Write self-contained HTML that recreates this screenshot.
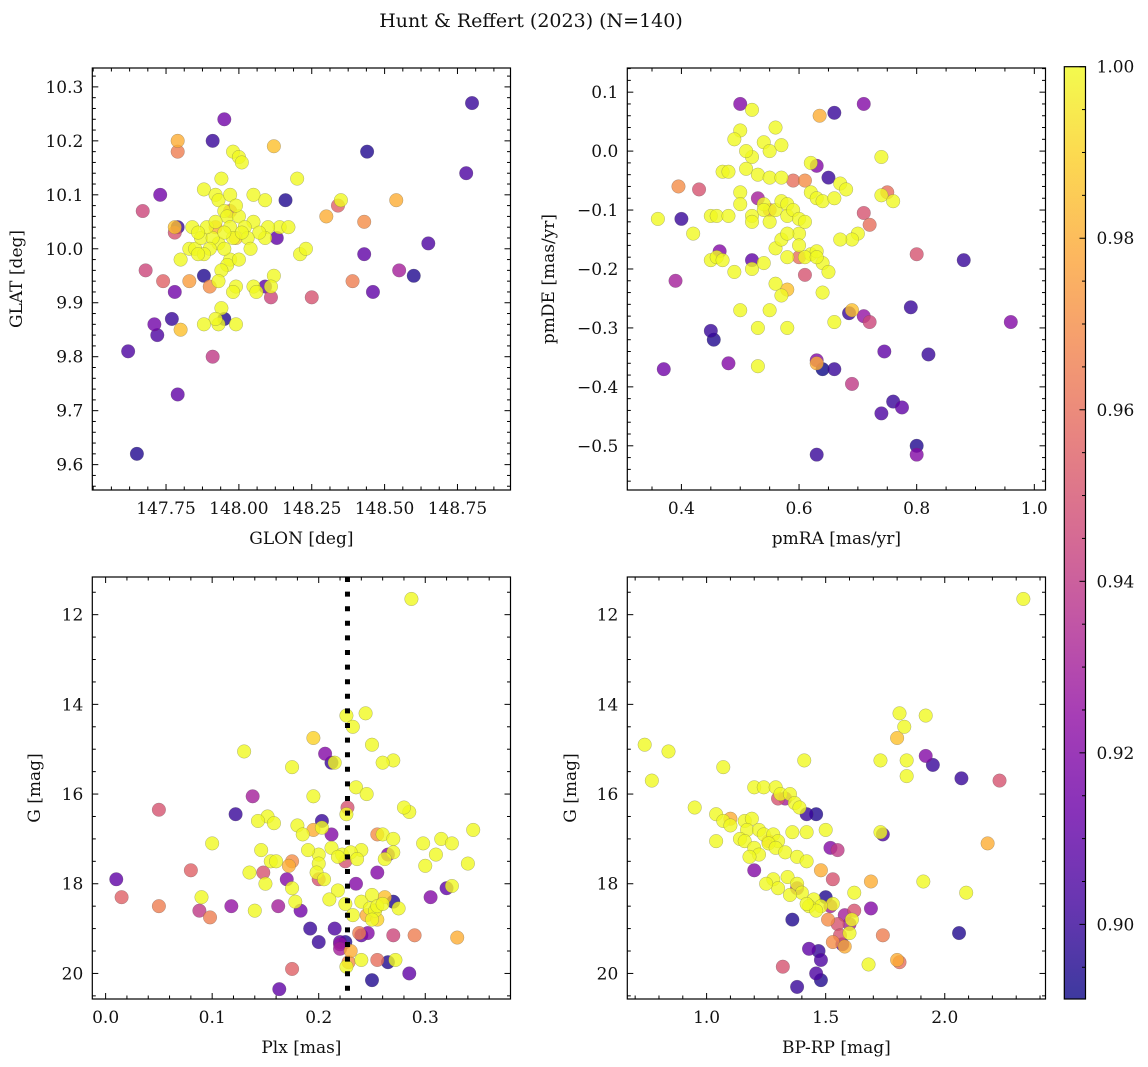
<!DOCTYPE html>
<html><head><meta charset="utf-8">
<style>
html,body{margin:0;padding:0;background:#fff;}
svg{display:block;font-family:"DejaVu Serif","Liberation Serif",serif;}
</style></head>
<body>
<svg id="fig" width="1148" height="1067" viewBox="0 0 1148 1067" xmlns="http://www.w3.org/2000/svg">
<rect width="1148" height="1067" fill="#fff"/>
<text x="531" y="27" font-size="19" text-anchor="middle" fill="#111">Hunt &amp; Reffert (2023) (N=140)</text>
</svg>
<script>
// ---- data: [x, y, membership probability] ----
const skyPoints = [
[148.80,10.27,.90],[147.95,10.24,.915],[147.91,10.20,.90],[147.79,10.20,.98],[147.79,10.18,.965],[148.44,10.18,.895],[148.12,10.19,.985],[148.78,10.14,.905],[147.73,10.10,.915],[147.67,10.07,.945],[148.16,10.09,.895],[148.34,10.08,.955],[148.54,10.09,.98],[148.43,10.05,.97],[148.30,10.06,.98],[148.65,10.01,.905],[148.43,9.99,.91],[147.68,9.96,.945],[147.74,9.94,.955],[148.60,9.95,.895],[148.55,9.96,.93],[148.46,9.92,.91],[148.39,9.94,.965],[148.25,9.91,.95],[148.11,9.91,.945],[147.78,9.92,.915],[147.71,9.86,.915],[147.72,9.84,.905],[147.77,9.87,.90],[147.62,9.81,.905],[147.91,9.80,.94],[147.79,9.73,.91],[147.65,9.62,.895],[147.80,9.85,.985],[147.95,9.87,.895],[148.09,9.93,.91],[148.13,10.02,.91],[147.79,10.04,.90],[147.78,10.04,.985],[147.78,10.03,.95],[147.88,9.95,.895],[147.90,9.93,.97],[147.83,9.94,.975],
[147.98,10.18,1],[148.00,10.17,1],[148.01,10.16,1],[147.94,10.13,1],[148.20,10.13,1],[147.88,10.11,1],[148.09,10.09,1],[148.05,10.10,1],[148.14,10.04,1],[148.05,10.05,1],[148.10,10.04,1],[148.17,10.04,1],[148.35,10.09,1],[148.21,9.99,1],[148.23,10.00,1],[148.09,10.02,1],[148.07,10.03,1],[148.12,9.95,1],[148.11,9.93,1],[148.05,9.93,1],[148.06,9.92,1],[147.99,9.93,1],[147.98,9.92,1],[147.94,9.89,1],[147.99,9.86,1],[147.93,9.86,1],[147.92,9.87,1],[147.88,9.86,1],[147.80,9.98,1],[147.83,10.00,1],[147.85,10.00,1],[147.87,10.02,1],[147.84,10.04,1],[147.92,10.10,1],[147.93,10.09,1],[147.95,10.07,1],[147.96,10.06,1],[148.00,10.06,1],[148.02,10.04,1],[148.03,10.02,1],[148.04,10.00,1],[147.97,10.04,1],[147.98,10.02,1],[147.93,10.01,1],[147.91,10.02,1],[147.90,10.00,1],[147.88,9.99,1],[147.89,10.04,1],[147.95,10.03,1],[147.97,9.98,1],[147.96,9.97,1],[147.94,9.96,1],[147.93,9.94,1],[147.97,10.10,1],[147.99,10.08,1],[148.01,10.03,1],[147.92,10.05,1],[147.86,9.99,1],[147.95,10.00,1],[147.86,10.03,1],[148.00,9.98,1],[147.97,10.07,.96],[147.92,10.04,.98],[147.99,10.02,.99]
];
const pmPoints = [
[0.50,0.08,.92],[0.71,0.08,.92],[0.66,0.065,.90],[0.635,0.06,.98],[0.395,-0.06,.97],[0.43,-0.065,.95],[0.63,-0.025,.92],[0.65,-0.045,.90],[0.40,-0.115,.90],[0.75,-0.07,.96],[0.71,-0.105,.95],[0.72,-0.125,.96],[0.59,-0.05,.96],[0.61,-0.05,.97],[0.55,-0.10,.97],[0.53,-0.08,.93],[0.465,-0.17,.92],[0.52,-0.185,.91],[0.60,-0.18,.96],[0.39,-0.22,.93],[0.61,-0.21,.95],[0.80,-0.175,.95],[0.88,-0.185,.90],[0.58,-0.235,.985],[0.45,-0.305,.90],[0.455,-0.32,.895],[0.69,-0.27,.985],[0.685,-0.275,.90],[0.71,-0.28,.925],[0.72,-0.29,.945],[0.79,-0.265,.90],[0.96,-0.29,.92],[0.37,-0.37,.915],[0.48,-0.36,.92],[0.63,-0.355,.92],[0.63,-0.36,.98],[0.64,-0.37,.89],[0.66,-0.37,.90],[0.745,-0.34,.91],[0.82,-0.345,.90],[0.69,-0.395,.94],[0.76,-0.425,.90],[0.775,-0.435,.91],[0.74,-0.445,.905],[0.80,-0.5,.895],[0.80,-0.515,.92],[0.63,-0.515,.90],
[0.52,0.07,1],[0.56,0.04,1],[0.50,0.035,1],[0.49,0.02,1],[0.54,0.015,1],[0.55,0.0,1],[0.57,0.01,1],[0.52,-0.01,1],[0.51,0.0,1],[0.47,-0.035,1],[0.48,-0.035,1],[0.51,-0.03,1],[0.53,-0.04,1],[0.55,-0.045,1],[0.57,-0.045,1],[0.50,-0.07,1],[0.45,-0.11,1],[0.46,-0.11,1],[0.42,-0.14,1],[0.36,-0.115,1],[0.48,-0.11,1],[0.50,-0.09,1],[0.52,-0.11,1],[0.52,-0.12,1],[0.54,-0.09,1],[0.54,-0.10,1],[0.55,-0.12,1],[0.56,-0.1,1],[0.57,-0.085,1],[0.58,-0.09,1],[0.58,-0.11,1],[0.59,-0.10,1],[0.60,-0.115,1],[0.60,-0.14,1],[0.61,-0.12,1],[0.62,-0.07,1],[0.62,-0.02,1],[0.63,-0.08,1],[0.64,-0.085,1],[0.66,-0.08,1],[0.67,-0.055,1],[0.68,-0.065,1],[0.70,-0.14,1],[0.69,-0.15,1],[0.74,-0.075,1],[0.76,-0.085,1],[0.74,-0.01,1],[0.45,-0.185,1],[0.46,-0.18,1],[0.47,-0.185,1],[0.49,-0.205,1],[0.52,-0.20,1],[0.54,-0.19,1],[0.56,-0.165,1],[0.57,-0.15,1],[0.58,-0.18,1],[0.58,-0.14,1],[0.60,-0.16,1],[0.62,-0.175,1],[0.63,-0.17,1],[0.64,-0.19,1],[0.65,-0.205,1],[0.56,-0.225,1],[0.57,-0.245,1],[0.55,-0.27,1],[0.61,-0.18,1],[0.66,-0.29,1],[0.50,-0.27,1],[0.53,-0.30,1],[0.58,-0.30,1],[0.53,-0.365,1],[0.64,-0.24,1],[0.63,-0.18,1],[0.67,-0.15,1]
];
const plxPoints = [
[0.287,11.65,1],[0.226,14.25,1],[0.244,14.2,1],[0.232,14.5,1],[0.250,14.9,1],[0.195,14.75,.99],[0.13,15.05,1],[0.175,15.4,1],[0.215,15.3,1],[0.27,15.25,1],[0.26,15.3,1],[0.206,15.1,.92],[0.212,15.3,.90],[0.235,15.85,1],[0.245,16.0,1],[0.195,16.05,1],[0.227,16.3,.95],[0.226,16.45,1],[0.152,16.5,1],[0.138,16.05,.93],[0.203,16.6,.90],[0.18,16.7,1],[0.185,16.9,1],[0.203,16.75,1],[0.195,16.8,.98],[0.212,16.9,.92],[0.122,16.45,.90],[0.158,16.65,1],[0.143,16.6,1],[0.26,16.9,1],[0.27,17.0,1],[0.285,16.4,1],[0.28,16.3,1],[0.255,16.9,.97],[0.298,17.1,1],[0.31,17.35,1],[0.315,17.0,1],[0.325,17.1,1],[0.345,16.8,1],[0.34,17.55,1],[0.30,17.6,1],[0.27,17.3,1],[0.262,17.45,1],[0.255,17.75,.92],[0.265,17.35,.92],[0.24,17.25,1],[0.212,17.2,1],[0.222,17.35,1],[0.225,17.5,.95],[0.218,17.4,1],[0.23,17.3,1],[0.236,17.45,1],[0.2,17.35,1],[0.19,17.25,1],[0.175,17.5,.97],[0.172,17.6,.98],[0.2,17.55,1],[0.198,17.75,1],[0.205,17.9,1],[0.1,17.1,1],[0.146,17.25,1],[0.148,17.75,.95],[0.135,17.75,1],[0.155,17.5,1],[0.16,17.5,1],[0.15,18.0,1],[0.17,17.9,.92],[0.175,18.1,1],[0.2,17.9,.95],[0.235,18.0,.92],[0.218,18.15,1],[0.21,18.35,1],[0.225,18.45,1],[0.24,18.4,1],[0.25,18.25,1],[0.248,18.55,1],[0.253,18.6,1],[0.255,18.5,1],[0.26,18.45,1],[0.245,18.7,.98],[0.25,18.8,1],[0.255,18.8,.99],[0.262,18.3,.985],[0.232,18.7,1],[0.275,18.55,1],[0.305,18.3,.92],[0.27,18.4,.895],[0.32,18.1,.91],[0.325,18.05,1],[0.01,17.9,.91],[0.015,18.3,.955],[0.05,18.5,.965],[0.08,17.7,.955],[0.088,18.6,.94],[0.098,18.75,.965],[0.09,18.3,1],[0.118,18.5,.925],[0.14,18.6,1],[0.162,18.5,.93],[0.183,18.6,.915],[0.178,18.4,1],[0.192,19.0,.90],[0.215,19.0,.905],[0.238,19.1,.965],[0.24,19.15,.91],[0.27,19.15,.945],[0.246,19.1,.92],[0.2,19.3,.90],[0.22,19.3,.91],[0.22,19.45,.93],[0.225,19.3,.895],[0.23,19.5,.98],[0.24,19.7,1],[0.228,19.75,.97],[0.226,19.85,1],[0.175,19.9,.955],[0.163,20.35,.91],[0.25,20.15,.895],[0.285,20.0,.91],[0.29,19.15,.965],[0.33,19.2,.98],[0.255,19.7,.96],[0.265,19.75,.895],[0.272,19.7,1],[0.22,19.35,.925],[0.05,16.35,.95]
];
const cmdPoints = [
[2.33,11.65,1],[1.81,14.2,1],[1.92,14.25,1],[1.83,14.5,1],[1.8,14.75,.985],[0.74,14.9,1],[0.84,15.05,1],[1.73,15.25,1],[1.84,15.25,1],[1.41,15.25,1],[1.92,15.15,.92],[1.95,15.35,.90],[1.07,15.4,1],[0.77,15.7,1],[2.07,15.65,.90],[2.23,15.7,.95],[1.84,15.6,1],[1.2,15.85,1],[1.24,15.85,1],[1.29,15.85,1],[1.31,16.0,1],[1.35,16.0,1],[1.33,16.1,.93],[1.37,16.2,1],[1.39,16.3,1],[1.42,16.45,.90],[1.46,16.45,.895],[0.95,16.3,1],[1.04,16.45,1],[1.07,16.6,1],[1.1,16.55,.98],[1.1,16.7,1],[1.16,16.6,1],[1.19,16.55,1],[1.17,16.8,1],[1.22,16.8,1],[1.24,16.9,1],[1.28,16.9,1],[1.3,17.05,1],[1.26,17.1,1],[1.36,16.85,1],[1.42,16.85,1],[1.5,16.8,1],[1.52,17.2,.92],[1.55,17.25,.94],[1.73,16.85,1],[1.74,16.9,.905],[2.18,17.1,.98],[1.04,17.05,1],[1.14,17.0,1],[1.16,17.05,1],[1.2,17.2,1],[1.22,17.35,1],[1.18,17.4,1],[1.29,17.2,1],[1.33,17.3,1],[1.38,17.4,1],[1.42,17.5,1],[1.48,17.7,.98],[1.53,17.9,.95],[1.2,17.7,.92],[1.28,17.9,1],[1.34,17.85,1],[1.38,18.1,.93],[1.38,18.0,1],[1.3,18.1,1],[1.4,18.2,1],[1.45,18.35,1],[1.5,18.3,.895],[1.62,18.2,1],[1.69,17.95,.98],[1.91,17.95,1],[2.09,18.2,1],[1.53,18.45,1],[1.48,18.5,1],[1.43,18.5,1],[1.46,18.6,1],[1.52,18.5,.93],[1.58,18.7,.93],[1.62,18.6,.95],[1.6,18.9,.93],[1.55,18.9,.95],[1.69,18.55,.92],[1.61,18.8,1],[1.51,18.8,.97],[1.36,18.8,.895],[1.56,19.15,.95],[1.53,19.3,.97],[1.57,19.35,.91],[1.6,19.1,1],[1.58,19.4,.98],[1.74,19.15,.965],[2.06,19.1,.895],[1.43,19.45,.91],[1.47,19.5,.90],[1.48,19.7,.905],[1.68,19.8,1],[1.81,19.75,.96],[1.8,19.7,.98],[1.32,19.85,.95],[1.46,20.0,.905],[1.48,20.15,.895],[1.38,20.3,.90],[1.42,18.45,1],[1.35,18.25,1],[1.25,18.0,1],[1.3,16.1,.95],[1.26,17.05,.98]
];
const parallaxCut = [0.227];
const skyXTicks = [147.75,148.00,148.25,148.50,148.75];
const skyYTicks = [9.6,9.7,9.8,9.9,10.0,10.1,10.2,10.3];
const pmXTicks = [0.4,0.6,0.8,1.0];
const pmYTicks = [-0.5,-0.4,-0.3,-0.2,-0.1,0.0,0.1];
const plxXTicks = [0.0,0.1,0.2,0.3];
const magTicks = [12,14,16,18,20];
const cmdXTicks = [1.0,1.5,2.0];
const cbarTicks = [0.90,0.92,0.94,0.96,0.98,1.00];

const NS = "http://www.w3.org/2000/svg";
const svg = document.getElementById('fig');
function mk(tag, attrs, parent){
  const e = document.createElementNS(NS, tag);
  for (const k in attrs) e.setAttribute(k, attrs[k]);
  (parent||svg).appendChild(e);
  return e;
}
const PMIN = 0.8913, PMAX = 1.0;
const plasma = [[13,8,135],[65,4,157],[106,0,168],[143,13,164],[177,42,144],[204,71,120],[225,100,98],[242,132,75],[252,166,54],[252,206,37],[240,249,33]];
function cmap(p){
  let t = (p-PMIN)/(PMAX-PMIN); t = Math.max(0, Math.min(1, t));
  const f = t*10, i = Math.min(9, Math.floor(f)), u = f - i;
  const a = plasma[i], b = plasma[i+1];
  return 'rgb(' + [0,1,2].map(k=>Math.round(a[k]+(b[k]-a[k])*u)).join(',') + ')';
}
function fmt(v, d){ return (v<0?'\u2212':'') + Math.abs(v).toFixed(d); }

function panel(cfg){
  const {name, x0, x1, y0, y1, xmin, xmax, ymin, ymax, invertY} = cfg;
  const sx = v => x0 + (v - xmin)/(xmax - xmin)*(x1 - x0);
  const sy = invertY ? (v => y0 + (v - ymin)/(ymax - ymin)*(y1 - y0))
                     : (v => y1 - (v - ymin)/(ymax - ymin)*(y1 - y0));
  const g = mk('g', {});
  
  
  const pts = cfg.points.slice().sort((a,b)=>a[2]-b[2]);
  const pg = mk('g', {}, g);
  
  
  pts.forEach(p=>{
    const c = mk('circle', {cx: sx(p[0]), cy: sy(p[1]), r: 6.8, fill: cmap(p[2]), 'fill-opacity': 0.8, stroke: '#555', 'stroke-opacity': 0.45, 'stroke-width': 0.5}, pg);
    
    
  });
  if (cfg.vline !== undefined){
    const l = mk('line', {x1: sx(cfg.vline), x2: sx(cfg.vline), y1: y0, y2: y1, stroke: '#000', 'stroke-width': 5, 'stroke-dasharray': '5 9.6'}, g);
    
    
  }
  const tg = mk('g', {stroke: '#000', 'stroke-width': 1}, g);
  
  
  const xMinorStep = cfg.xMinor, yMinorStep = cfg.yMinor;
  for (let v = Math.ceil(xmin/xMinorStep)*xMinorStep; v <= xmax + 1e-9; v += xMinorStep){
    const X = sx(v); if (X < x0 || X > x1) continue;
    const major = cfg.xTicks.some(t => Math.abs(t - v) < xMinorStep*0.3);
    const L = major ? 6 : 3.5;
    mk('line', {x1: X, x2: X, y1: y1, y2: y1 - L}, tg);
    mk('line', {x1: X, x2: X, y1: y0, y2: y0 + L}, tg);
  }
  for (let v = Math.ceil(ymin/yMinorStep)*yMinorStep; v <= ymax + 1e-9; v += yMinorStep){
    const Y = sy(v); if (Y < y0 || Y > y1) continue;
    const major = cfg.yTicks.some(t => Math.abs(t - v) < yMinorStep*0.3);
    const L = major ? 6 : 3.5;
    mk('line', {x1: x0, x2: x0 + L, y1: Y, y2: Y}, tg);
    mk('line', {x1: x1, x2: x1 - L, y1: Y, y2: Y}, tg);
  }
  const fr = mk('rect', {x: x0, y: y0, width: x1 - x0, height: y1 - y0, fill: 'none', stroke: '#000', 'stroke-width': 1.2}, g);
  
  
  cfg.xTicks.forEach(t=>{
    const tx = mk('text', {x: sx(t), y: y1 + 24, 'font-size': 17, 'text-anchor': 'middle', fill: '#111'}, g);
    tx.textContent = fmt(t, cfg.xDec);
    
    
  });
  cfg.yTicks.forEach(t=>{
    const tx = mk('text', {x: x0 - 9, y: sy(t) + 6, 'font-size': 17, 'text-anchor': 'end', fill: '#111'}, g);
    tx.textContent = fmt(t, cfg.yDec);
    
    
  });
  const xt = mk('text', {x: (x0 + x1)/2, y: y1 + 54, 'font-size': 17, 'text-anchor': 'middle', fill: '#111'}, g);
  xt.textContent = cfg.xLabel;
  
  
  const yt = mk('text', {x: 0, y: 0, 'font-size': 17, 'text-anchor': 'middle', fill: '#111', transform: 'translate(' + cfg.yLabelX + ',' + (y0 + y1)/2 + ') rotate(-90)'}, g);
  yt.textContent = cfg.yLabel;
  
  
}

panel({name:'sky', points: skyPoints, x0:92.3, x1:510.5, y0:68, y1:490, xmin:147.497, xmax:148.932, ymin:9.553, ymax:10.335,
  xTicks: skyXTicks, yTicks: skyYTicks, xMinor:0.0625, yMinor:0.02, xDec:2, yDec:1, xLabel:'GLON [deg]', yLabel:'GLAT [deg]', yLabelX:22});
panel({name:'proper-motion', points: pmPoints, x0:627.3, x1:1045.5, y0:68, y1:490, xmin:0.308, xmax:1.019, ymin:-0.575, ymax:0.141,
  xTicks: pmXTicks, yTicks: pmYTicks, xMinor:0.05, yMinor:0.02, xDec:1, yDec:1, xLabel:'pmRA [mas/yr]', yLabel:'pmDE [mas/yr]', yLabelX:554});
panel({name:'parallax-magnitude', points: plxPoints, x0:92.3, x1:510.5, y0:577, y1:999, xmin:-0.0125, xmax:0.380, ymin:11.16, ymax:20.57, invertY:true,
  xTicks: plxXTicks, yTicks: magTicks, xMinor:0.02, yMinor:0.5, xDec:1, yDec:0, xLabel:'Plx [mas]', yLabel:'G [mag]', yLabelX:40, vline: parallaxCut[0]});
panel({name:'color-magnitude', points: cmdPoints, x0:627.3, x1:1045.5, y0:577, y1:999, xmin:0.667, xmax:2.423, ymin:11.16, ymax:20.57, invertY:true,
  xTicks: cmdXTicks, yTicks: magTicks, xMinor:0.1, yMinor:0.5, xDec:1, yDec:0, xLabel:'BP-RP [mag]', yLabel:'G [mag]', yLabelX:576});

// colorbar
(function(){
  const cx0 = 1064.3, cx1 = 1085.5, cy0 = 66.7, cy1 = 999;
  const sy = v => cy1 - (v - PMIN)/(PMAX - PMIN)*(cy1 - cy0);
  const g = mk('g', {});
  
  
  const defs = mk('defs', {}, g);
  const lg = mk('linearGradient', {id: 'cbg', x1: 0, y1: 1, x2: 0, y2: 0}, defs);
  for (let i = 0; i <= 20; i++){
    const p = PMIN + (PMAX - PMIN)*i/20;
    mk('stop', {offset: (i/20).toFixed(3), 'stop-color': cmap(p)}, lg);
  }
  const r = mk('rect', {x: cx0, y: cy0, width: cx1 - cx0, height: cy1 - cy0, fill: 'url(#cbg)', 'fill-opacity': 0.8, stroke: '#000', 'stroke-width': 1.2}, g);
  
  
  for (let v = 0.895; v <= 1.0001; v += 0.005){
    const major = cbarTicks.some(t => Math.abs(t - v) < 0.001);
    const Y = sy(v);
    mk('line', {x1: cx1, x2: cx1 - (major ? 6 : 3.5), y1: Y, y2: Y, stroke: '#000', 'stroke-width': 1}, g);
  }
  cbarTicks.forEach(t=>{
    const tx = mk('text', {x: cx1 + 11, y: sy(t) + 6, 'font-size': 17, fill: '#111'}, g);
    tx.textContent = t.toFixed(2);
    
    
  });
})();
</script>
</body></html>
